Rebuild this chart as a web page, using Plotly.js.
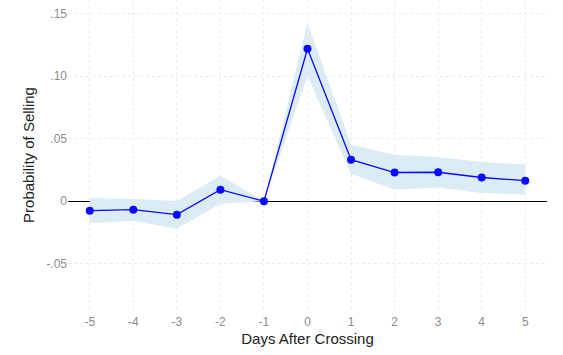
<!DOCTYPE html>
<html>
<head>
<meta charset="utf-8">
<script src="https://cdn.plot.ly/plotly-3.0.1.min.js"></script>
<style>html,body{margin:0;padding:0;background:#fff;}#chart{width:563px;height:355px;}</style>
</head>
<body>
<div id="chart"></div>
<script>
const days = [-5, -4, -3, -2, -1, 0, 1, 2, 3, 4, 5];
const estimate = [-0.0075, -0.0067, -0.0107, 0.0093, 0, 0.122, 0.0333, 0.023, 0.0232, 0.019, 0.0165];
const ciUpper = [0.0027, 0.0019, 0.0003, 0.0205, 0, 0.1427, 0.0453, 0.0373, 0.0355, 0.0315, 0.0293];
const ciLower = [-0.0173, -0.0157, -0.0219, -0.002, 0, 0.100, 0.0221, 0.0093, 0.011, 0.0067, 0.0053];
const yTickVals = [-0.05, 0, 0.05, 0.10, 0.15];
const yTickText = ['-.05', '0', '.05', '.10', '.15'];

const traces = [
  {x: days, y: ciLower, type: 'scatter', mode: 'lines', line: {width: 0, color: 'rgba(0,0,0,0)'}, hoverinfo: 'skip', showlegend: false},
  {x: days, y: ciUpper, type: 'scatter', mode: 'lines', fill: 'tonexty', fillcolor: '#dcecf4', line: {width: 0, color: 'rgba(0,0,0,0)'}, hoverinfo: 'skip', showlegend: false},
  {x: days, y: estimate, type: 'scatter', mode: 'lines+markers', line: {color: '#0a0aff', width: 1.3}, marker: {color: '#0a0aff', size: 8}, showlegend: false}
];

const layout = {
  width: 563, height: 355,
  margin: {l: 68, r: 16, t: 0, b: 45},
  paper_bgcolor: '#ffffff', plot_bgcolor: '#ffffff',
  font: {family: 'Liberation Sans, Arial, sans-serif', color: '#8c8c8c', size: 12},
  xaxis: {
    range: [-5.5, 5.5],
    tickvals: days,
    ticktext: days.map(String),
    showgrid: true, gridcolor: '#ececec', griddash: 'dot', gridwidth: 1,
    zeroline: false, showline: false, ticks: '',
    ticklabelstandoff: 3,
    tickfont: {size: 12, color: '#8c8c8c'},
    title: {text: 'Days After Crossing', font: {size: 15, color: '#222222'}, standoff: 5}
  },
  yaxis: {
    range: [-0.087, 0.161],
    tickvals: yTickVals,
    ticktext: yTickText,
    showgrid: true, gridcolor: '#ececec', griddash: 'dot', gridwidth: 1,
    zeroline: true, zerolinecolor: '#000000', zerolinewidth: 1.3,
    showline: false, ticks: '',
    tickfont: {size: 12, color: '#8c8c8c'},
    title: {text: 'Probability of Selling', font: {size: 15, color: '#222222'}, standoff: 8}
  }
};

Plotly.newPlot('chart', traces, layout, {displayModeBar: false, staticPlot: true});
</script>
</body>
</html>
